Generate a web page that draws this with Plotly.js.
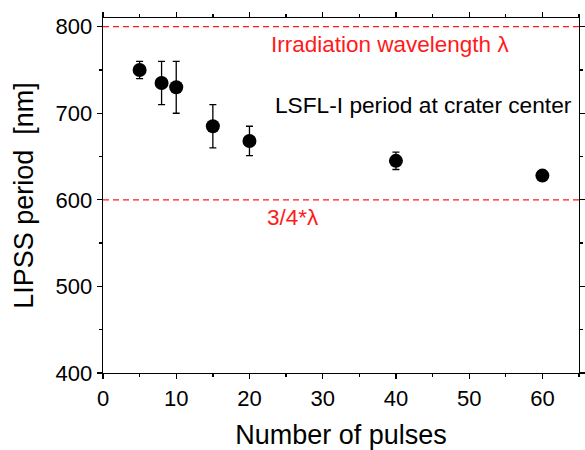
<!DOCTYPE html>
<html>
<head>
<meta charset="utf-8">
<script src="https://cdn.plot.ly/plotly-3.0.1.min.js"></script>
<style>html,body{margin:0;padding:0;background:#fff;}#chart{width:585px;height:450px;}</style>
</head>
<body>
<div id="chart"></div>
<script>
// Data
const pulses = [5, 8, 10, 15, 20, 40, 60];
const period = [750, 735, 730, 685, 668, 645, 628];
const periodErr = [10, 25, 30, 25, 17, 10, 3];
const refValues = [800, 600];
const refLabels = ["Irradiation wavelength \u03BB", "3/4*\u03BB"];
const refLabelX = [39.2, 26];
const refLabelY = [779, 580];
const noteText = "LSFL-I period at crater center";
const noteX = 43.7;
const noteY = 710;
const xTitle = "Number of pulses";
const yTitle = "LIPSS period  [nm]";

const font = "Liberation Sans, Arial, sans-serif";

const trace = {
  x: pulses, y: period, type: "scatter", mode: "markers",
  marker: {color: "#000", size: 14},
  error_y: {type: "data", array: periodErr, visible: true, color: "#000", thickness: 1.3, width: 3.5},
  showlegend: false, hoverinfo: "skip"
};

const shapes = refValues.map(v => ({
  type: "line", xref: "paper", x0: 0, x1: 1, yref: "y", y0: v, y1: v,
  line: {color: "#ff1a1a", width: 1.4, dash: "6px,4px"}, layer: "above"
}));

const annotations = refLabels.map((t, i) => ({
  x: refLabelX[i], y: refLabelY[i], xref: "x", yref: "y", text: t, showarrow: false,
  font: {family: font, size: 22.5, color: "#ff1a1a"}, xanchor: "center", yanchor: "middle"
}));
annotations.push({
  x: noteX, y: noteY, xref: "x", yref: "y", text: noteText, showarrow: false,
  font: {family: font, size: 22.7, color: "#000"}, xanchor: "center", yanchor: "middle"
});

const axisCommon = {
  showline: true, linecolor: "#000", linewidth: 1.3, mirror: "allticks",
  ticks: "outside", ticklen: 5, tickwidth: 1.3, tickcolor: "#000",
  showgrid: false, zeroline: false,
  tickfont: {family: font, size: 22, color: "#000"}
};

const layout = {
  width: 585, height: 450,
  margin: {l: 103, r: 6, t: 18, b: 77},
  paper_bgcolor: "#fff", plot_bgcolor: "#fff",
  font: {family: font},
  xaxis: Object.assign({}, axisCommon, {
    range: [0, 65], dtick: 10, tick0: 0,
    minor: {dtick: 5, ticks: "outside", ticklen: 3, tickwidth: 1.3, tickcolor: "#000"},
    title: {text: xTitle, font: {family: font, size: 27, color: "#000"}, standoff: 17}
  }),
  yaxis: Object.assign({}, axisCommon, {
    range: [400, 810], dtick: 100, tick0: 0,
    minor: {dtick: 50, ticks: "outside", ticklen: 3, tickwidth: 1.3, tickcolor: "#000"},
    title: {text: yTitle, font: {family: font, size: 27, color: "#000"}, standoff: 14}
  }),
  shapes: shapes,
  annotations: annotations
};

Plotly.newPlot("chart", [trace], layout, {staticPlot: true, displayModeBar: false});
</script>
</body>
</html>
